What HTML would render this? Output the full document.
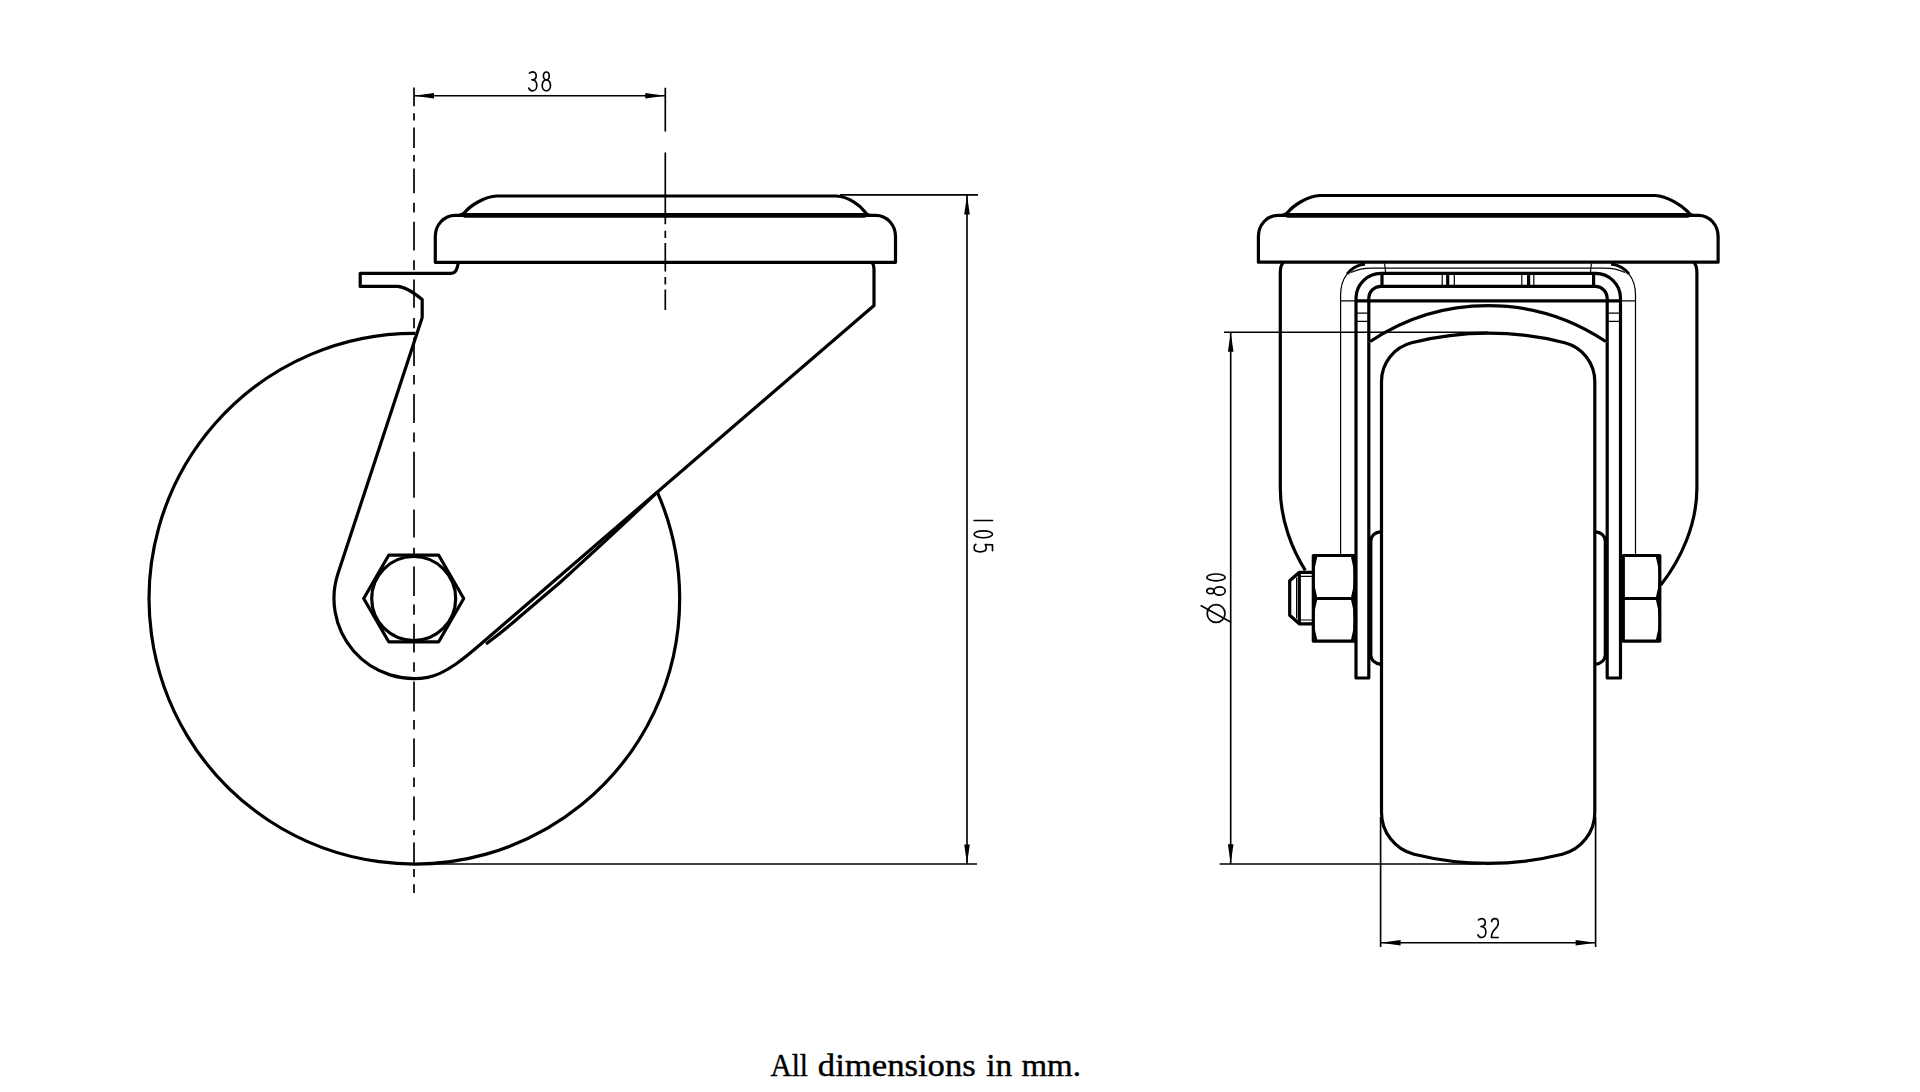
<!DOCTYPE html>
<html><head><meta charset="utf-8"><title>Castor drawing</title>
<style>
html,body{margin:0;padding:0;background:#fff;}
body{width:1920px;height:1092px;overflow:hidden;position:relative;}
svg{position:absolute;left:0;top:0;}
</style></head>
<body>
<svg width="1920" height="1092" viewBox="0 0 1920 1092">
<g fill="none" stroke="#000" stroke-linejoin="round" stroke-linecap="butt">

<!-- ================= LEFT VIEW ================= -->
<g id="lv" stroke-width="3.2">
  <!-- wheel arc -->
  <path d="M415.5,333.4 A265.3,265.3 0 1 0 657.3,492.1"/>
  <!-- plate upper cap -->
  <path d="M459,215.3 Q462.5,215 464.6,212.5 C470,206 484,196.5 497,196 L836,196 C849,196.5 860.5,206 864.6,211.5 Q866.7,215 870,215.3"/>
  <!-- plate body -->
  <path d="M464.6,215.3 L455,215.3 A19.7,21.2 0 0 0 435.3,236.5 L435.3,262.3 L895.5,262.3 L895.5,236.5 A19.7,21.2 0 0 0 875.8,215.3 L864.6,215.3"/>
  <!-- thick line -->
  <path d="M464.6,215.3 L864.6,215.3" stroke-width="4.7" stroke-linecap="round"/>
  <!-- brake tab + fork left leg + hub + diagonal -->
  <path d="M458.3,262.5 Q457,273.4 451.3,273.4 L360.2,273.4 L360.2,286.4 L397.6,286.4 C404,286.6 413,292 422.2,299.4 L422.2,317.5 L337.9,573.8 A80,80 0 0 0 427.9,677.3 C447.6,673.8 470.6,652.8 482,643 L874,305.5 L874,270 Q874,264 871.4,262.4"/>
  <!-- lower diagonal (double line) -->
  <path d="M657.3,492.1 Q622,526 560,582.5 L520,616.5 Q506,629 486,644"/>
  <!-- hex nut -->
  <path d="M363.7,598.5 L388.7,555.2 L438.7,555.2 L463.7,598.5 L438.7,641.8 L388.7,641.8 Z"/>
  <circle cx="413.7" cy="598.5" r="42"/>
</g>
<!-- centerlines left view -->
<g stroke-width="1.7">
  <path d="M414,87.6 V106.3 M414,113.3 V120.4 M414,127.4 V147.9 M414,155 V161.4 M414,168.5 V193.3 M414,202.8 V212.6 M414,221.8 V250.6 M414,260.3 V269.9 M414,279.5 V307.7 M414,318 V328.2 M414,337.6 V366 M414,374.9 V384.5 M414,394.1 V423 M414,432.6 V442.2 M414,451.8 V497.8 M414,509.4 V537.6 M414,547.8 V554.9 M414,566.4 V595.9 M414,604.5 V614.7 M414,623.7 V652.6 M414,662.2 V671.8 M414,681.4 V711.5 M414,719.9 V729.5 M414,738.5 V767.1 M414,777.4 V786.9 M414,796.4 V820.6 M414,830.1 V835.2 M414,842.6 V863.1 M414,868.9 V877 M414,884.3 V893.1"/>
  <path d="M665.3,87.7 V131.5 M665.3,152.4 V224.2 M665.3,230.8 V237.9 M665.3,242.9 V271.4 M665.3,277 V284.6 M665.3,289.6 V309.9"/>
</g>
<!-- dimensions left view -->
<g stroke-width="1.65">
  <path d="M414,95.7 H665.3"/>
  <path d="M840,194.8 H978"/>
  <path d="M414,864 H977"/>
  <path d="M967,195 V864"/>
</g>
<g fill="#000" stroke="none">
  <path d="M414,95.7 L434,92.9 L434,98.5 Z"/>
  <path d="M665.3,95.7 L645.3,92.9 L645.3,98.5 Z"/>
  <path d="M967,195 L964.2,214.5 L969.8,214.5 Z"/>
  <path d="M967,864 L964.2,844.5 L969.8,844.5 Z"/>
</g>

<!-- ================= RIGHT VIEW ================= -->
<g id="rv" stroke-width="3.2">
  <!-- plate upper cap -->
  <path d="M1282,215.3 Q1285.5,215 1287.6,212.5 C1293,206 1307,196 1320,195.5 L1655,195.5 C1668,196 1682,206 1687.6,211.5 Q1689.7,215 1693,215.3"/>
  <!-- plate body -->
  <path d="M1287.4,215.3 L1278,215.3 A19.6,21.2 0 0 0 1258.4,236.5 L1258.4,262.2 L1718.1,262.2 L1718.1,236.5 A19.6,21.2 0 0 0 1698.5,215.3 L1688,215.3"/>
  <path d="M1287.4,215.3 L1688,215.3" stroke-width="4.7" stroke-linecap="round"/>
  <!-- housing -->
  <path d="M1283.5,262.5 Q1280.3,265 1280.3,273 L1280.3,488 C1280.3,520 1292.3,550 1305.3,570.3"/>
  <path d="M1693.7,262.5 Q1696.9,265 1696.9,273 L1696.9,488 C1696.9,525 1680.5,560 1660.8,585"/>
  <path d="M1347.2,273.9 C1351.4,268.5 1357.5,265 1365,264 M1628.9,273.9 C1624.7,268.5 1618.6,265 1611.1,264" stroke-width="2.8"/>
  <!-- bracket U outer -->
  <path d="M1368.8,298 L1368.8,678 L1356,678 L1356,298 A25,25 0 0 1 1381,273.3 L1595,273.3 A25,25 0 0 1 1620.5,298 L1620.5,678 L1607.2,678 L1607.2,298 A12,12 0 0 0 1595.5,286.3 L1381,286.3 A12,12 0 0 0 1368.8,298 Z"/>
  <path d="M1382,273.3 V286.3 M1593.6,273.3 V286.3"/>
  <path d="M1447.7,273.3 V286.3 M1528.6,273.3 V286.3"/>
  <!-- thick horizontal -->
  <path d="M1356,300.8 H1620.5"/>
  <!-- wheel upper arc -->
  <path d="M1370.2,341.5 A211,211 0 0 1 1605.8,341.5"/>
  <!-- tire -->
  <path d="M1381.5,812.2 L1381.5,381.5 A40,40 0 0 1 1411.6,342.7 A315.3,315.3 0 0 1 1564.7,342.7 A40,40 0 0 1 1594.8,381.5 L1594.8,812.2 A43.3,43.3 0 0 1 1562.3,854.3 A309.3,309.3 0 0 1 1414,854.3 A43.3,43.3 0 0 1 1381.5,812.2 Z"/>
  <!-- washers -->
  <path d="M1381,531.7 C1375,532.5 1371,535 1370.8,541 L1370.8,655 C1371,661 1375,663.5 1381,664.3"/>
  <path d="M1595,531.7 C1601,532.5 1605,535 1605.3,541 L1605.3,655 C1605,661 1601,663.5 1595,664.3"/>
  <!-- nuts -->
  <path d="M1313.3,555.5 H1354.9 V641.1 H1313.3 Z M1313.3,598.5 H1354.9"/>
  <path d="M1623.3,555.5 H1659.8 V641.1 H1623.3 Z M1623.3,598.5 H1659.8"/>
  <!-- bolt -->
  <path d="M1313.3,572.3 L1299.3,572.3 L1289.7,580.8 L1289.7,615.3 L1299.3,623.8 L1313.3,623.8"/>
  <path d="M1299.3,572.3 V623.8"/>
</g>
<g stroke-width="1.2">
  <!-- thin outer fork -->
  <path d="M1340.6,555.5 L1340.6,295 C1340.6,278 1350,266 1365,264"/>
  <path d="M1635.5,555.5 L1635.5,295 C1635.5,278 1626,266 1611,264"/>
  <path d="M1340.6,300.8 H1356 M1620.5,300.8 H1635.5"/>
  <path d="M1351,272.5 Q1360,268.2 1372,268.2 H1604 Q1616,268.2 1625,272.5"/>
  <path d="M1384.6,263.5 L1385.6,272.5 M1591.4,263.5 L1590.4,272.5"/>
  <path d="M1356,313.2 H1368.8 M1356,321.3 H1368.8 M1607.2,313.2 H1620.5 M1607.2,321.3 H1620.5"/>
  <path d="M1442.2,273.3 V286.3 M1454.3,273.3 V286.3 M1521.8,273.3 V286.3 M1533.8,273.3 V286.3"/>
  <path d="M1296.6,577.5 V618.5 M1299.3,576.4 H1313.3 M1299.3,620 H1313.3"/>
  <!-- nut face curves -->

</g>
<g fill="#000" stroke="none">
  <path d="M1313.3,556 L1317.5,556 Q1311,577.3 1317.5,598.5 L1313.3,598.5 Z M1313.3,598.5 L1317.5,598.5 Q1311,619.8 1317.5,641 L1313.3,641 Z"/>
  <path d="M1354.9,556 L1350.7,556 Q1357.2,577.3 1350.7,598.5 L1354.9,598.5 Z M1354.9,598.5 L1350.7,598.5 Q1357.2,619.8 1350.7,641 L1354.9,641 Z"/>
  <path d="M1659.8,556 L1655.6,556 Q1662.1,577.3 1655.6,598.5 L1659.8,598.5 Z M1659.8,598.5 L1655.6,598.5 Q1662.1,619.8 1655.6,641 L1659.8,641 Z"/>
</g>
<!-- dimensions right view -->
<g stroke-width="1.65">
  <path d="M1224,332.2 H1488"/>
  <path d="M1219.6,864 H1481"/>
  <path d="M1230.7,332.2 V864"/>
  <path d="M1380.6,817 V946.9 M1595.6,817 V946.9"/>
  <path d="M1380.6,942.75 H1595.6"/>
</g>
<g fill="#000" stroke="none">
  <path d="M1230.7,332.2 L1227.9,351.8 L1233.5,351.8 Z"/>
  <path d="M1230.7,864 L1227.9,844.3 L1233.5,844.3 Z"/>
  <path d="M1380.6,942.75 L1400.6,940 L1400.6,945.5 Z"/>
  <path d="M1595.6,942.75 L1575.6,940 L1575.6,945.5 Z"/>
</g>

<!-- ================= DIGITS ================= -->
<g stroke-width="1.65" stroke-linecap="round">
  <!-- 38 -->
  <g transform="translate(528.3,71.2)"><path d="M1.1,2.0 C2.0,1.0 3.2,0.7 4.6,0.7 C6.6,0.7 7.9,2.6 7.9,4.7 C7.9,7.0 6.0,8.6 3.5,8.6 C6.4,8.8 8.5,11.0 8.5,14.2 C8.5,17.4 6.7,19.6 4.4,19.6 C2.6,19.6 1.2,18.4 0.5,16.9"/></g>
  <g transform="translate(541.4,71.2)"><path d="M4.9,8.6 C3.0,8.6 2.0,6.8 2.0,4.6 C2.0,2.3 3.2,0.8 4.9,0.8 C6.6,0.8 7.8,2.3 7.8,4.6 C7.8,6.8 6.8,8.6 4.9,8.6 C2.4,8.6 0.8,11.3 0.8,14.2 C0.8,17.2 2.6,19.5 4.95,19.5 C7.3,19.5 9.1,17.2 9.1,14.2 C9.1,11.3 7.4,8.6 4.9,8.6 Z"/></g>
  <!-- 32 -->
  <g transform="translate(1477.4,917.9)"><path d="M1.1,2.0 C2.0,1.0 3.2,0.7 4.6,0.7 C6.6,0.7 7.9,2.6 7.9,4.7 C7.9,7.0 6.0,8.6 3.5,8.6 C6.4,8.8 8.5,11.0 8.5,14.2 C8.5,17.4 6.7,19.6 4.4,19.6 C2.6,19.6 1.2,18.4 0.5,16.9"/></g>
  <g transform="translate(1490.6,917.9)"><path d="M1.0,3.6 C1.2,1.6 2.6,0.7 4.3,0.7 C6.5,0.7 7.7,2.4 7.7,5.0 C7.7,8.0 6.0,9.8 4.2,11.5 C2.2,13.4 0.9,15.6 0.9,19.6 L7.6,19.6"/></g>
  <!-- 105 rotated -->
  <g transform="translate(993.3,515.5) rotate(90)">
    <path d="M5,0.8 V19.2"/>
    <ellipse cx="18.75" cy="10" rx="3.45" ry="9.2"/>
    <path d="M35.2,0.8 L29.4,0.8 L29.0,8.0 C30.0,7.4 31.4,7.0 32.6,7.0 C35.0,7.0 36.3,9.6 36.3,13.2 C36.3,16.8 34.6,19.2 32.2,19.2 C30.6,19.2 29.4,18.6 28.8,17.4"/>
  </g>
  <!-- dia 80 rotated -->
  <g transform="translate(1206,623) rotate(-90)">
    <circle cx="9.5" cy="10.1" r="8.9"/>
    <path d="M1.0,24.6 L17.2,-4.8"/>
    <path d="M32,8.0 C30.2,8.0 29.3,6.4 29.3,4.4 C29.3,2.3 30.4,0.8 32,0.8 C33.6,0.8 34.7,2.3 34.7,4.4 C34.7,6.4 33.8,8.0 32,8.0 C29.6,8.0 27.9,10.7 27.9,13.6 C27.9,16.8 29.7,19.2 32,19.2 C34.3,19.2 36.1,16.8 36.1,13.6 C36.1,10.7 34.4,8.0 32,8.0 Z"/>
    <ellipse cx="45.6" cy="10" rx="3.4" ry="9.2"/>
  </g>
</g>
</g>
<g font-family="Liberation Serif, serif" font-size="31" fill="#000" stroke="#000" stroke-width="0.4">
  <text x="770.4" y="1075.8" textLength="37.6" lengthAdjust="spacingAndGlyphs">All</text>
  <text x="817.8" y="1075.8" textLength="158" lengthAdjust="spacingAndGlyphs">dimensions</text>
  <text x="986.2" y="1075.8" textLength="26" lengthAdjust="spacingAndGlyphs">in</text>
  <text x="1021.4" y="1075.8" textLength="59.5" lengthAdjust="spacingAndGlyphs">mm.</text>
</g>
</svg>
</body></html>
